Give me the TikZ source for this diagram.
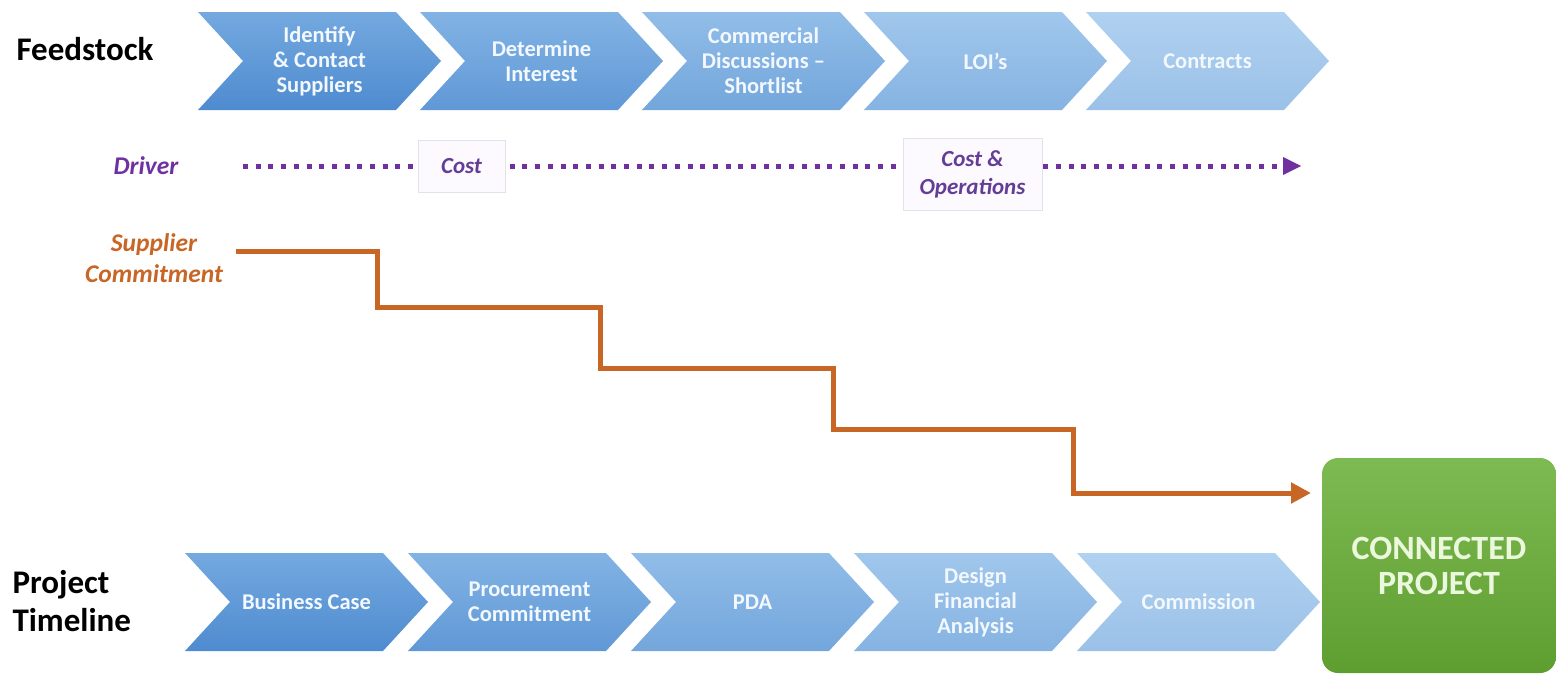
\documentclass[tikz,border=0pt]{standalone}
\usepackage{fontspec}
\setmainfont{Carlito}
\usetikzlibrary{arrows.meta}
\definecolor{ta1}{RGB}{116,169,224}\definecolor{tb1}{RGB}{78,139,207}
\definecolor{ta2}{RGB}{130,179,228}\definecolor{tb2}{RGB}{96,152,214}
\definecolor{ta3}{RGB}{145,189,232}\definecolor{tb3}{RGB}{115,166,220}
\definecolor{ta4}{RGB}{160,199,236}\definecolor{tb4}{RGB}{134,179,226}
\definecolor{ta5}{RGB}{176,209,240}\definecolor{tb5}{RGB}{155,193,232}
\definecolor{drvpurple}{RGB}{112,48,160}
\definecolor{costpurple}{RGB}{100,62,150}
\definecolor{supor}{RGB}{200,102,38}
\definecolor{greentop}{RGB}{126,186,82}
\definecolor{greenbot}{RGB}{94,158,48}
\definecolor{cptext}{RGB}{236,248,222}
\definecolor{chevtxt}{RGB}{242,248,254}
\tikzset{
  chevtext/.style={text=chevtxt, font=\bfseries\fontsize{22.5}{25}\selectfont, align=center},
  rowlabel/.style={text=black, font=\bfseries\fontsize{33}{38}\selectfont, align=left},
  drvbox/.style={draw={rgb,255:red,228;green,226;blue,232}, line width=0.8pt, fill={rgb,255:red,252;green,250;blue,254}, text=costpurple, font=\bfseries\itshape\fontsize{23}{28}\selectfont, align=center, inner sep=0pt},
  drvline/.style={drvpurple, line width=5pt, dash pattern=on 5pt off 7.7pt, -{Triangle[length=18pt,width=18pt,line width=0pt]}},
  stair/.style={supor, line width=5pt, -{Triangle[length=20pt,width=20pt]}},
}
\newcommand\mychev[6]{%
  \path[top color=#4, bottom color=#5] (#2,#3) -- ++(198,0) -- ++(45,49) -- ++(-45,49) -- ++(-198,0) -- ++(45,-49) -- cycle;
  \node[chevtext] (#1) at ({#2+121.5},{#3+49}) {#6};}
\begin{document}
\begin{tikzpicture}[x=1pt,y=-1pt]
\useasboundingbox (0,0) rectangle (1556,675);
% top row
\mychev{f1}{198}{12}{ta1}{tb1}{Identify\\\& Contact\\Suppliers}
\mychev{f2}{420}{12}{ta2}{tb2}{Determine\\Interest}
\mychev{f3}{642}{12}{ta3}{tb3}{Commercial\\Discussions –\\Shortlist}
\mychev{f4}{864}{12}{ta4}{tb4}{LOI’s}
\mychev{f5}{1086}{12}{ta5}{tb5}{Contracts}
% bottom row
\mychev{p1}{185}{553}{ta1}{tb1}{Business Case}
\mychev{p2}{408}{553}{ta2}{tb2}{Procurement\\Commitment}
\mychev{p3}{631}{553}{ta3}{tb3}{PDA}
\mychev{p4}{854}{553}{ta4}{tb4}{Design\\Financial\\Analysis}
\mychev{p5}{1077}{553}{ta5}{tb5}{Commission}
% labels
\node[rowlabel, anchor=base west] (feed) at (13,60) {Feedstock};
\node[rowlabel, anchor=west] (proj) at (9,601) {Project\\Timeline};
\node[text=drvpurple, font=\bfseries\itshape\fontsize{25.5}{28}\selectfont] (drv) at (146,166) {Driver};
\node[text=supor, font=\bfseries\itshape\fontsize{25.5}{31}\selectfont, align=center] (sup) at (154,258) {Supplier\\Commitment};
% connected project
\node[rounded corners=16pt, top color=greentop, bottom color=greenbot, minimum width=234pt, minimum height=215pt, text=cptext, font=\bfseries\fontsize{34}{35}\selectfont, align=center] (cp) at (1439,565.5) {CONNECTED\\PROJECT};
% driver line
\coordinate (ds) at (243,166);
\coordinate (de) at (1301,166);
\draw[drvline] (ds) -- (de);
\node[drvbox, minimum width=87pt, minimum height=52pt] (cost) at (461.5,166) {Cost};
\node[drvbox, minimum width=139pt, minimum height=72pt] (costop) at (972.5,174) {Cost \&\\Operations};
% staircase
\coordinate (s0) at (236,251);
\coordinate (s1) at (377,307);
\coordinate (s2) at (600,368);
\coordinate (s3) at (833,429);
\coordinate (s4) at (1073,493);
\coordinate (se) at (1311,493);
\draw[stair] (s0) -| (s1) -| (s2) -| (s3) -| (s4) -- (se);
\end{tikzpicture}
\end{document}
